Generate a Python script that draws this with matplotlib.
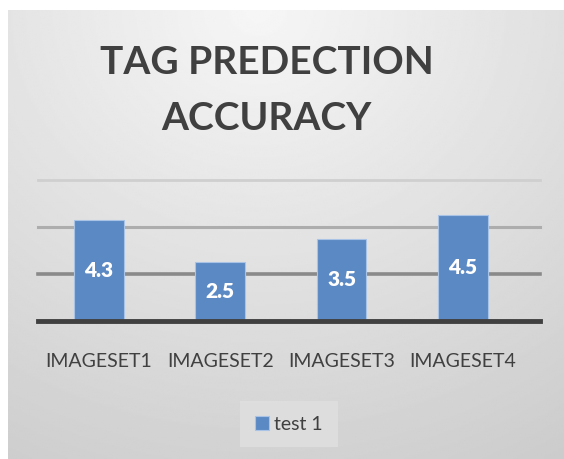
#!/usr/bin/env python3
"""
Tag prediction accuracy per image set, single-series bar chart.
"""
import numpy as np
import matplotlib
matplotlib.use("Agg")
import matplotlib.pyplot as plt

categories = ["IMAGESET1", "IMAGESET2", "IMAGESET3", "IMAGESET4"]
test1 = [4.3, 2.5, 3.5, 4.5]
series_name = "test 1"
grid_values = [2, 4, 6]

W, H = 564, 459
FONT = ["Lato", "DejaVu Sans"]
TEXT = "#404040"
BAR = "#5b89c4"

fig = plt.figure(figsize=(W / 100, H / 100), dpi=100)
fig.patch.set_facecolor("white")

# gradient background panel (light at top centre, darker towards the corners)
bg = fig.add_axes([8 / W, 0, 1 - 8 / W, 1 - 10 / H])
yy, xx = np.mgrid[0:1:300j, 0:1:300j]
dist = np.sqrt(((xx - 0.45) * 1.0) ** 2 + (yy * 0.9) ** 2)
shade = 0.965 - 0.19 * np.clip(dist, 0, 1.2) / 1.2
bg.imshow(shade, cmap="gray", vmin=0, vmax=1, aspect="auto",
          extent=[0, 1, 1, 0], interpolation="bilinear")
bg.set_axis_off()

# plot area
left, right = 38 / W, 540 / W
bottom, top = (H - 320.7) / H, (H - 180) / H
ax = fig.add_axes([left, bottom, right - left, top - bottom])
ax.set_facecolor("none")
x = np.arange(len(categories))

grid_styles = {2: ("#8a8a8a", 2.6), 4: ("#adadad", 2.2), 6: ("#cfcfcf", 2.0)}
for g in grid_values:
    c, lw = grid_styles[g]
    ax.axhline(g, color=c, lw=lw, zorder=1, clip_on=False)
ax.axhline(0, color="#404040", lw=3.5, zorder=3, clip_on=False)

bars = ax.bar(x, test1, width=0.41, color=BAR, edgecolor="#a9c3e6",
              linewidth=0.8, zorder=2, label=series_name)
for rect, v in zip(bars, test1):
    ax.text(rect.get_x() + rect.get_width() / 2, v / 2, f"{v}",
            ha="center", va="center", color="white", fontsize=15,
            fontweight="heavy", family=FONT, zorder=4)

ax.set_xlim(-0.503, 3.636)
ax.set_ylim(0, 6)
ax.set_yticks([])
ax.set_xticks(x)
ax.set_xticklabels(categories, family=FONT, fontsize=14, color=TEXT)
ax.tick_params(axis="x", length=0, pad=23)
for s in ax.spines.values():
    s.set_visible(False)

fig.text(266.5 / W, 1 - 62 / H, "TAG PREDECTION", ha="center", va="center",
         fontsize=28, fontweight="bold", color=TEXT, family=FONT)
fig.text(266.5 / W, 1 - 118 / H, "ACCURACY", ha="center", va="center",
         fontsize=28, fontweight="bold", color=TEXT, family=FONT)

leg = fig.legend(handles=[bars], labels=[series_name], loc="center",
                 bbox_to_anchor=(289 / W, 1 - 424 / H), frameon=True,
                 prop={"family": FONT, "size": 14}, handlelength=0.7,
                 handleheight=0.7, handletextpad=0.3, borderpad=0.75,
                 fancybox=False)
leg.get_frame().set_facecolor("#e0e0e0")
leg.get_frame().set_edgecolor("none")
leg.get_frame().set_alpha(0.8)
for t in leg.get_texts():
    t.set_color(TEXT)

fig.savefig("out.png", dpi=100)
